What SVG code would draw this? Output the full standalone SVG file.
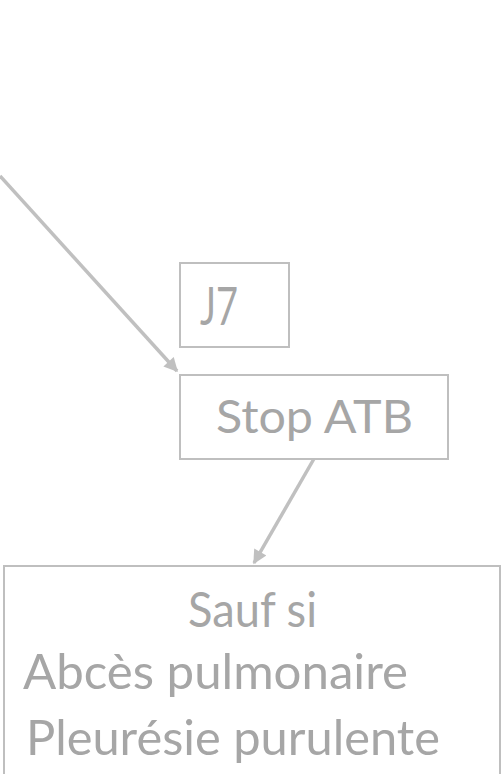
<svg xmlns="http://www.w3.org/2000/svg" width="504" height="774" viewBox="0 0 504 774">
  <style>
    .box { fill: #ffffff; stroke: #bfbfbf; stroke-width: 2; }
    .label { font-family: Lato, "Open Sans", "Liberation Sans", sans-serif; fill: #a6a6a6; }
    .link { fill: none; stroke: #c0c0c0; stroke-width: 3.5; }
  </style>
  <defs>
    <marker id="arrow" viewBox="0 0 10 10" refX="9" refY="5" markerWidth="4.4" markerHeight="4" orient="auto" markerUnits="strokeWidth">
      <path d="M0,0 L10,5 L0,10 z" fill="#c0c0c0"/>
    </marker>
  </defs>

  <rect width="504" height="774" fill="#ffffff"/>

  <g id="connectors">
    <line class="link" x1="0" y1="176" x2="177" y2="371" marker-end="url(#arrow)"/>
    <line class="link" x1="315" y1="457" x2="254" y2="563" marker-end="url(#arrow)"/>
  </g>

  <g id="node-j7">
    <rect class="box" x="180" y="263" width="109" height="84"/>
    <text class="label" x="200" y="325" font-size="53" textLength="38" lengthAdjust="spacingAndGlyphs">J7</text>
  </g>

  <g id="node-stop-atb">
    <rect class="box" x="180" y="375" width="268" height="84"/>
    <text class="label" x="216" y="433" font-size="46" textLength="197" lengthAdjust="spacingAndGlyphs">Stop ATB</text>
  </g>

  <g id="node-sauf-si">
    <rect class="box" x="4" y="566" width="496" height="220"/>
    <text class="label" x="188" y="627" font-size="48" textLength="129" lengthAdjust="spacingAndGlyphs">Sauf si</text>
    <text class="label" x="23" y="689" font-size="48" textLength="385" lengthAdjust="spacingAndGlyphs">Abcès pulmonaire</text>
    <text class="label" x="26" y="755" font-size="48" textLength="414" lengthAdjust="spacingAndGlyphs">Pleurésie purulente</text>
  </g>
</svg>
